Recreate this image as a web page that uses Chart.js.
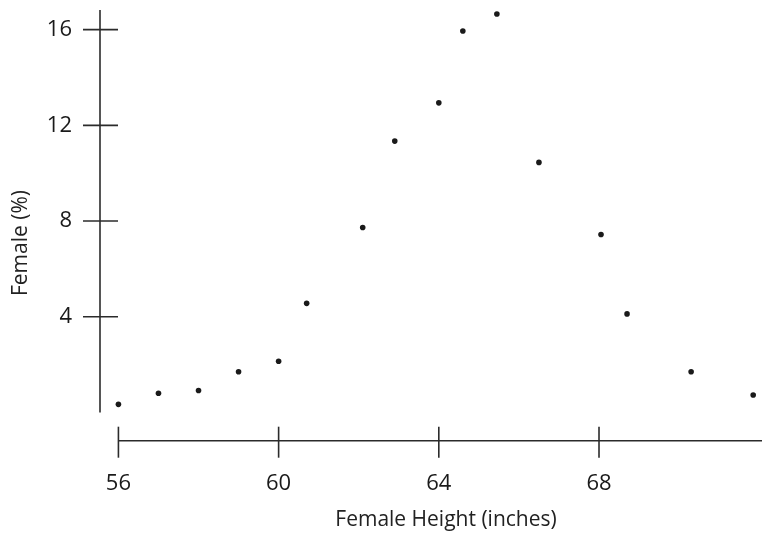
<!DOCTYPE html>
<html>
<head>
<meta charset="utf-8">
<script src="https://cdn.jsdelivr.net/npm/chart.js@4.4.1/dist/chart.umd.min.js"></script>
<style>
  html, body { margin: 0; padding: 0; background: #ffffff; overflow: hidden; }
  #wrap { width: 762px; height: 535px; position: relative; overflow: hidden; }
</style>
</head>
<body>
<div id="wrap"><canvas id="c" width="762" height="535"></canvas></div>
<script>
// Data
const heightInches = [56, 57, 58, 59, 60, 60.7, 62.1, 62.9, 64, 64.6, 65.45, 66.5, 68.05, 68.7, 70.3, 71.85];
const femalePercent = [0.34, 0.8, 0.92, 1.7, 2.14, 4.56, 7.73, 11.34, 12.94, 15.94, 16.65, 10.45, 7.44, 4.12, 1.7, 0.73];
const xTickValues = [56, 60, 64, 68];
const yTickValues = [4, 8, 12, 16];
const xTitle = 'Female Height (inches)';
const yTitle = 'Female (%)';

const points = heightInches.map((h, i) => ({ x: h, y: femalePercent[i] }));

const FONT = "'Open Sans', sans-serif";
const AXIS_COLOR = '#2b2b2b';

const axisPlugin = {
  id: 'brokenAxes',
  afterDraw(chart) {
    const ctx = chart.ctx;
    const xs = chart.scales.x, ys = chart.scales.y;
    const area = chart.chartArea;
    ctx.save();
    ctx.strokeStyle = AXIS_COLOR;
    ctx.lineWidth = 1.6;
    const yx = area.left;
    ctx.beginPath();
    ctx.moveTo(yx, ys.getPixelForValue(0));
    ctx.lineTo(yx, area.top);
    ctx.stroke();
    yTickValues.forEach(v => {
      const py = ys.getPixelForValue(v);
      ctx.beginPath();
      ctx.moveTo(yx - 17, py);
      ctx.lineTo(yx + 18, py);
      ctx.stroke();
    });
    const xy = area.bottom;
    ctx.beginPath();
    ctx.moveTo(xs.getPixelForValue(xTickValues[0]), xy);
    ctx.lineTo(chart.width, xy);
    ctx.stroke();
    xTickValues.forEach(v => {
      const px = xs.getPixelForValue(v);
      ctx.beginPath();
      ctx.moveTo(px, xy - 14);
      ctx.lineTo(px, xy + 17);
      ctx.stroke();
    });
    // axis titles
    ctx.fillStyle = '#222';
    ctx.font = "21px " + FONT;
    ctx.textAlign = 'center';
    ctx.textBaseline = 'middle';
    ctx.fillText(xTitle, 446, 520);
    ctx.translate(21, 243);
    ctx.rotate(-Math.PI / 2);
    ctx.fillText(yTitle, 0, 0);
    ctx.restore();
  }
};

new Chart(document.getElementById('c'), {
  type: 'scatter',
  data: {
    datasets: [{
      data: points,
      backgroundColor: '#1a1a1a',
      borderColor: '#1a1a1a',
      pointRadius: 2.8,
      pointBorderWidth: 0,
      pointHoverRadius: 2.8
    }]
  },
  options: {
    responsive: false,
    animation: false,
    events: [],
    layout: { padding: { top: 10, right: 0, left: 0, bottom: 0 } },
    plugins: {
      legend: { display: false },
      tooltip: { enabled: false }
    },
    scales: {
      x: {
        type: 'linear',
        min: 55.54,
        max: 72.0,
        grid: { display: false, drawTicks: false },
        border: { display: false },
        afterBuildTicks: s => { s.ticks = xTickValues.map(v => ({ value: v })); },
        afterFit: s => { s.height = 94.3; s.paddingLeft = 0; s.paddingRight = 0; },
        ticks: {
          color: '#1a1a1a',
          font: { family: FONT, size: 22 },
          padding: 30,
          maxRotation: 0,
          autoSkip: false
        },
        title: { display: false, text: xTitle }
      },
      y: {
        type: 'linear',
        min: -1.18,
        max: 16.82,
        grid: { display: false, drawTicks: false },
        border: { display: false },
        afterBuildTicks: s => { s.ticks = yTickValues.map(v => ({ value: v })); },
        afterFit: s => { s.width = 100; s.paddingTop = 0; s.paddingBottom = 0; },
        ticks: {
          color: '#1a1a1a',
          font: { family: FONT, size: 22 },
          padding: 28,
          autoSkip: false
        },
        title: { display: false, text: yTitle }
      }
    }
  },
  plugins: [axisPlugin]
});
</script>
</body>
</html>
